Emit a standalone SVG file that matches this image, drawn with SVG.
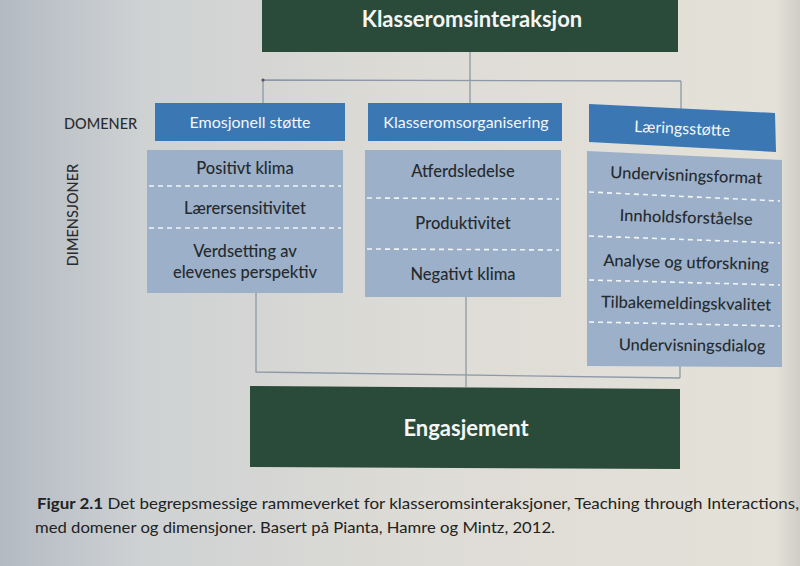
<svg xmlns="http://www.w3.org/2000/svg" width="800" height="566" viewBox="0 0 800 566">
<defs>
<linearGradient id="bg" x1="0" y1="0" x2="1" y2="0">
<stop offset="0" stop-color="#b3bac3"/>
<stop offset="0.18" stop-color="#cfd2d3"/>
<stop offset="0.55" stop-color="#dedcd6"/>
<stop offset="0.97" stop-color="#e4e1d8"/>
<stop offset="1" stop-color="#cfcdc6"/>
</linearGradient>
<style>
.green{fill:#2a4a3a}
.dom{fill:#3a77b3}
.dim{fill:#9cb1c9}
.dash{stroke:#f2f4f6;stroke-width:1.6;stroke-dasharray:5 4;fill:none}
.conn{stroke:#8d99a8;stroke-width:1.3;fill:none}
.t{font-family:Lato,"Open Sans","Liberation Sans",sans-serif;text-anchor:middle}
.dt{font-size:16.5px;font-weight:500;fill:#262a2e}
.wt{font-size:16px;fill:#f3f6fa}
.big{font-size:22px;font-weight:bold;fill:#f4f6f4}
.lab{font-family:Lato,"Open Sans","Liberation Sans",sans-serif;font-size:14.5px;font-weight:500;fill:#2a2d30}
.cap{font-family:Lato,"Open Sans","Liberation Sans",sans-serif;font-size:16px;fill:#222}
</style>
</defs>
<rect width="800" height="566" fill="url(#bg)"/>

<g id="connectors">
<path class="conn" d="M470 52 V80 M263 80 L681 81 M263 80 V103 M470 80 V103 M681 81 V110"/>
<circle cx="263" cy="80" r="1.6" fill="#555"/>
<path class="conn" d="M256 293 V372 L680 378 M466 297 V387 M680 366 V378"/>
</g>

<g id="klasseromsinteraksjon">
<rect class="green" x="262" y="-2" width="416" height="54"/>
<text class="t big" x="472" y="27">Klasseromsinteraksjon</text>
</g>

<g id="labels">
<text class="lab" x="64" y="129">DOMENER</text>
<text class="lab" transform="translate(78 215) rotate(-90)" text-anchor="middle">DIMENSJONER</text>
</g>

<g id="emosjonell-stotte">
<rect class="dom" x="155" y="103" width="190" height="38"/>
<text class="t wt" x="250" y="128">Emosjonell støtte</text>
<rect class="dim" x="147" y="150" width="196" height="143"/>
<path class="dash" d="M149 186 H341 M149 228 H341"/>
<text class="t dt" x="245" y="174">Positivt klima</text>
<text class="t dt" x="245" y="214">Lærersensitivitet</text>
<text class="t dt" x="245" y="257">Verdsetting av</text>
<text class="t dt" x="245" y="278">elevenes perspektiv</text>
</g>

<g id="klasseromsorganisering">
<rect class="dom" x="368" y="103" width="194" height="38"/>
<text class="t wt" x="466" y="128">Klasseromsorganisering</text>
<rect class="dim" x="365" y="150" width="196" height="147"/>
<path class="dash" d="M367 198 L559 199 M367 249 L559 250"/>
<text class="t dt" x="463" y="177">Atferdsledelse</text>
<text class="t dt" x="463" y="229">Produktivitet</text>
<text class="t dt" x="463" y="280">Negativt klima</text>
</g>

<g id="laeringsstotte">
<polygon class="dom" points="589,104 775,113 776,152 589,142"/>
<text class="t wt" x="682" y="134" transform="rotate(2.5 682 134)">Læringsstøtte</text>
<polygon class="dim" points="587,151 782,160 782,367 587,366"/>
<path class="dash" d="M589 192 L780 201 M589 236 L780 243 M589 280 L780 285 M589 322 L780 326"/>
<text class="t dt" x="686" y="181" transform="rotate(2.2 686 181)">Undervisningsformat</text>
<text class="t dt" x="686" y="223" transform="rotate(1.8 686 223)">Innholdsforståelse</text>
<text class="t dt" x="686" y="268" transform="rotate(1.4 686 268)">Analyse og utforskning</text>
<text class="t dt" x="686" y="309" transform="rotate(1 686 309)">Tilbakemeldingskvalitet</text>
<text class="t dt" x="692" y="351" transform="rotate(0.5 692 351)">Undervisningsdialog</text>
</g>

<g id="engasjement">
<polygon class="green" points="250,386 680,389 680,469 250,467"/>
<text class="t big" x="466" y="436">Engasjement</text>
</g>

<g id="caption">
<text class="cap" x="37" y="509" textLength="762" lengthAdjust="spacingAndGlyphs"><tspan font-weight="bold">Figur 2.1</tspan> Det begrepsmessige rammeverket for klasseromsinteraksjoner, Teaching through Interactions,</text>
<text class="cap" x="35" y="533" textLength="520" lengthAdjust="spacingAndGlyphs">med domener og dimensjoner. Basert på Pianta, Hamre og Mintz, 2012.</text>
</g>
</svg>
